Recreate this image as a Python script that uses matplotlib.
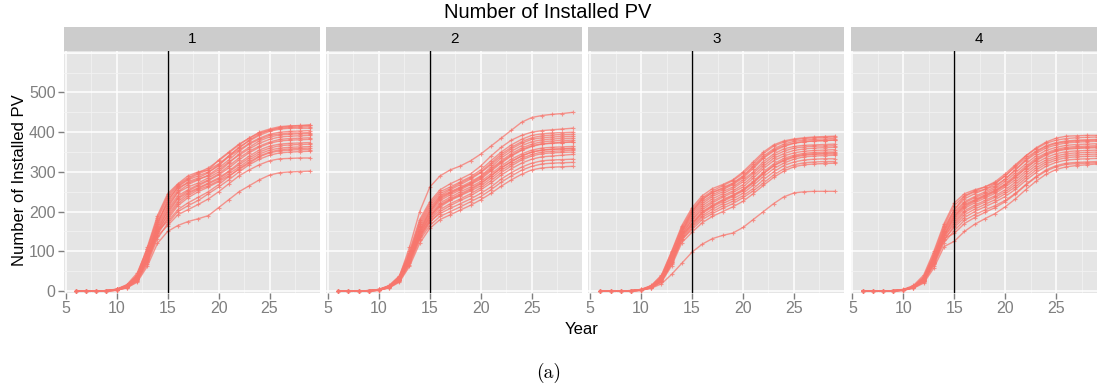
import matplotlib
matplotlib.use("Agg")
import matplotlib.pyplot as plt
from matplotlib.ticker import MultipleLocator

plt.rcParams['font.family'] = ['Liberation Sans', 'DejaVu Sans']

# data: cumulative installed PV per simulation run, years 6..29
years = list(range(6, 30))
vline_year = 15
panel_names = ["1", "2", "3", "4"]

panel1 = [
    [0, 0, 0, 1, 4, 14, 40, 110, 190, 245, 270, 290, 300, 305, 320, 340, 360, 380, 395, 405, 412, 415, 416, 418],
    [0, 0, 0, 1, 5, 16, 45, 105, 180, 235, 265, 282, 295, 305, 330, 350, 370, 385, 398, 405, 410, 412, 413, 414],
    [0, 0, 0, 1, 3, 12, 35, 95, 170, 225, 262, 280, 290, 300, 315, 340, 362, 378, 392, 402, 408, 410, 410, 410],
    [0, 0, 0, 0, 4, 15, 38, 100, 175, 220, 255, 275, 285, 298, 318, 338, 355, 372, 385, 395, 400, 402, 403, 404],
    [0, 0, 0, 1, 3, 10, 30, 90, 165, 215, 250, 268, 280, 292, 310, 330, 352, 370, 382, 392, 396, 398, 398, 399],
    [0, 0, 0, 0, 2, 12, 33, 85, 160, 210, 248, 262, 272, 285, 300, 322, 345, 362, 378, 388, 393, 395, 396, 396],
    [0, 0, 0, 1, 4, 14, 36, 92, 168, 230, 260, 272, 282, 290, 305, 325, 342, 358, 372, 382, 388, 390, 391, 392],
    [0, 0, 0, 0, 3, 11, 30, 80, 150, 205, 240, 255, 268, 280, 295, 315, 335, 352, 365, 375, 382, 384, 385, 386],
    [0, 0, 0, 1, 4, 13, 34, 88, 158, 200, 235, 252, 265, 278, 292, 310, 330, 348, 362, 372, 378, 380, 381, 382],
    [0, 0, 0, 0, 2, 10, 28, 78, 145, 195, 232, 248, 260, 272, 285, 302, 322, 340, 355, 365, 370, 372, 373, 374],
    [0, 0, 0, 1, 3, 12, 32, 84, 152, 190, 225, 245, 258, 270, 282, 300, 318, 335, 350, 360, 366, 368, 369, 370],
    [0, 0, 0, 0, 2, 9, 26, 72, 140, 185, 220, 240, 255, 265, 278, 295, 312, 330, 345, 355, 360, 362, 363, 364],
    [0, 0, 0, 1, 3, 11, 30, 80, 148, 180, 215, 235, 250, 262, 275, 290, 306, 322, 338, 348, 353, 355, 356, 356],
    [0, 0, 0, 0, 2, 8, 24, 68, 132, 170, 200, 215, 228, 245, 262, 280, 300, 318, 332, 342, 348, 350, 351, 352],
    [0, 0, 0, 1, 3, 10, 28, 75, 138, 165, 192, 205, 218, 232, 250, 270, 290, 305, 318, 328, 333, 334, 335, 335],
    [0, 0, 0, 0, 2, 8, 22, 62, 120, 150, 165, 175, 182, 190, 210, 230, 250, 265, 280, 292, 298, 300, 301, 302],
    [0, 0, 0, 1, 4, 14, 40, 105, 185, 240, 268, 285, 298, 310, 328, 348, 368, 385, 400, 408, 414, 416, 417, 418],
    [0, 0, 0, 0, 3, 10, 30, 85, 150, 175, 205, 222, 236, 250, 268, 288, 308, 325, 340, 350, 356, 358, 359, 360],
]

panel2 = [
    [0, 0, 0, 1, 4, 12, 35, 110, 200, 262, 290, 305, 315, 328, 345, 365, 385, 405, 425, 437, 442, 445, 447, 450],
    [0, 0, 0, 1, 4, 14, 38, 100, 180, 225, 255, 270, 282, 295, 315, 340, 362, 380, 392, 400, 404, 406, 408, 410],
    [0, 0, 0, 0, 3, 12, 35, 95, 175, 220, 250, 262, 275, 288, 305, 328, 350, 368, 382, 392, 396, 398, 399, 400],
    [0, 0, 0, 1, 3, 11, 32, 90, 170, 215, 245, 258, 272, 285, 300, 322, 345, 362, 376, 386, 391, 393, 394, 395],
    [0, 0, 0, 0, 3, 12, 34, 92, 165, 210, 240, 255, 268, 282, 298, 318, 340, 358, 372, 382, 386, 388, 389, 390],
    [0, 0, 0, 1, 4, 13, 36, 88, 160, 205, 238, 250, 262, 275, 290, 312, 335, 352, 366, 376, 381, 383, 384, 385],
    [0, 0, 0, 0, 2, 10, 30, 85, 155, 200, 232, 246, 258, 272, 288, 308, 328, 346, 360, 370, 376, 378, 379, 380],
    [0, 0, 0, 1, 3, 11, 32, 82, 150, 195, 228, 242, 255, 268, 282, 302, 322, 340, 354, 364, 370, 372, 374, 375],
    [0, 0, 0, 0, 2, 10, 28, 78, 148, 190, 222, 236, 250, 262, 276, 295, 315, 332, 345, 355, 360, 362, 363, 364],
    [0, 0, 0, 1, 3, 12, 30, 80, 145, 185, 218, 232, 245, 258, 272, 290, 310, 326, 340, 350, 355, 357, 358, 360],
    [0, 0, 0, 0, 2, 9, 27, 75, 140, 180, 212, 228, 240, 252, 265, 284, 304, 320, 334, 344, 350, 352, 353, 355],
    [0, 0, 0, 1, 3, 10, 28, 76, 138, 178, 205, 220, 232, 245, 260, 278, 298, 315, 330, 340, 346, 348, 349, 350],
    [0, 0, 0, 0, 2, 9, 25, 70, 132, 172, 200, 215, 228, 240, 255, 272, 292, 308, 322, 332, 338, 340, 342, 344],
    [0, 0, 0, 1, 3, 10, 28, 72, 135, 175, 195, 208, 220, 232, 246, 262, 282, 298, 312, 322, 328, 330, 331, 332],
    [0, 0, 0, 0, 2, 8, 24, 66, 128, 165, 188, 200, 212, 225, 238, 255, 274, 290, 304, 314, 320, 322, 323, 324],
    [0, 0, 0, 0, 2, 8, 22, 62, 120, 158, 180, 192, 204, 216, 230, 246, 264, 280, 294, 305, 310, 312, 313, 314],
    [0, 0, 0, 1, 3, 11, 30, 84, 152, 200, 235, 248, 260, 270, 285, 305, 325, 342, 356, 366, 371, 373, 374, 376],
    [0, 0, 0, 0, 3, 10, 28, 78, 142, 188, 215, 230, 242, 255, 270, 290, 310, 326, 340, 350, 355, 357, 358, 358],
]

panel3 = [
    [0, 0, 0, 0, 2, 7, 18, 42, 70, 98, 118, 132, 140, 146, 160, 180, 200, 220, 237, 247, 250, 251, 251, 251],
    [0, 0, 0, 1, 4, 14, 40, 100, 165, 210, 240, 258, 268, 280, 300, 325, 350, 368, 378, 383, 386, 388, 389, 390],
    [0, 0, 0, 1, 4, 13, 38, 98, 160, 205, 235, 252, 265, 278, 296, 320, 346, 365, 375, 381, 384, 386, 387, 388],
    [0, 0, 0, 0, 3, 12, 35, 95, 158, 200, 230, 248, 260, 272, 290, 315, 340, 358, 370, 377, 380, 382, 383, 384],
    [0, 0, 0, 1, 3, 12, 34, 90, 152, 195, 225, 242, 255, 268, 285, 308, 334, 352, 364, 372, 376, 378, 379, 380],
    [0, 0, 0, 0, 3, 11, 32, 88, 150, 190, 220, 238, 250, 262, 280, 300, 326, 345, 358, 364, 367, 368, 369, 370],
    [0, 0, 0, 1, 3, 10, 30, 85, 148, 185, 215, 232, 245, 258, 275, 296, 320, 340, 352, 360, 363, 365, 365, 366],
    [0, 0, 0, 0, 2, 10, 28, 80, 142, 180, 210, 226, 240, 252, 268, 290, 314, 334, 346, 354, 358, 360, 361, 362],
    [0, 0, 0, 1, 3, 11, 30, 82, 145, 178, 205, 222, 236, 248, 262, 284, 308, 328, 340, 348, 352, 354, 355, 356],
    [0, 0, 0, 0, 2, 9, 26, 76, 138, 172, 200, 216, 230, 242, 256, 276, 300, 320, 334, 342, 347, 349, 350, 350],
    [0, 0, 0, 1, 3, 10, 28, 78, 140, 170, 195, 212, 225, 238, 252, 272, 295, 315, 328, 337, 342, 344, 345, 345],
    [0, 0, 0, 0, 2, 9, 25, 72, 132, 165, 190, 206, 220, 232, 246, 266, 288, 308, 322, 332, 338, 340, 341, 342],
    [0, 0, 0, 0, 2, 8, 24, 68, 128, 160, 186, 200, 214, 226, 240, 258, 280, 300, 316, 325, 330, 332, 333, 333],
    [0, 0, 0, 1, 3, 9, 25, 70, 130, 155, 180, 195, 208, 220, 235, 252, 272, 292, 308, 318, 323, 325, 326, 326],
    [0, 0, 0, 0, 2, 8, 22, 64, 122, 148, 172, 188, 200, 212, 226, 245, 266, 286, 302, 313, 318, 320, 321, 322],
    [0, 0, 0, 1, 3, 11, 32, 86, 150, 200, 232, 248, 258, 270, 288, 312, 336, 355, 366, 373, 376, 378, 379, 380],
    [0, 0, 0, 0, 2, 9, 26, 74, 135, 168, 198, 214, 228, 240, 254, 274, 296, 316, 330, 339, 344, 346, 347, 348],
]

panel4 = [
    [0, 0, 0, 1, 4, 14, 40, 100, 170, 222, 245, 255, 262, 272, 290, 315, 340, 360, 375, 385, 390, 391, 392, 392],
    [0, 0, 0, 1, 3, 12, 36, 95, 165, 215, 240, 252, 262, 275, 295, 318, 340, 358, 372, 380, 384, 386, 387, 388],
    [0, 0, 0, 0, 3, 12, 34, 90, 160, 205, 232, 245, 256, 270, 290, 312, 335, 352, 366, 374, 378, 380, 381, 382],
    [0, 0, 0, 1, 3, 11, 32, 88, 155, 200, 225, 238, 250, 262, 282, 305, 328, 346, 360, 368, 373, 375, 376, 377],
    [0, 0, 0, 0, 2, 10, 30, 84, 150, 195, 222, 235, 246, 258, 276, 298, 320, 340, 354, 362, 367, 369, 370, 371],
    [0, 0, 0, 1, 3, 11, 30, 82, 148, 190, 218, 230, 242, 254, 270, 292, 314, 334, 348, 357, 362, 364, 365, 366],
    [0, 0, 0, 0, 2, 10, 28, 78, 142, 185, 212, 226, 238, 250, 266, 286, 308, 328, 342, 352, 357, 359, 360, 361],
    [0, 0, 0, 1, 3, 10, 28, 76, 140, 180, 208, 222, 234, 246, 262, 280, 302, 322, 336, 346, 351, 353, 354, 355],
    [0, 0, 0, 0, 2, 9, 26, 72, 135, 175, 202, 216, 228, 240, 255, 274, 296, 316, 330, 340, 346, 348, 349, 350],
    [0, 0, 0, 1, 3, 10, 27, 74, 136, 170, 198, 212, 224, 236, 250, 268, 290, 310, 325, 335, 341, 343, 344, 345],
    [0, 0, 0, 0, 2, 8, 24, 68, 128, 165, 192, 206, 218, 230, 245, 262, 284, 304, 320, 330, 336, 338, 339, 340],
    [0, 0, 0, 1, 2, 9, 25, 70, 130, 160, 185, 200, 212, 224, 238, 256, 278, 298, 314, 324, 330, 332, 333, 334],
    [0, 0, 0, 0, 2, 8, 22, 64, 122, 152, 178, 192, 204, 215, 228, 246, 268, 288, 305, 316, 322, 324, 325, 326],
    [0, 0, 0, 0, 2, 7, 20, 58, 112, 125, 150, 168, 182, 195, 212, 232, 255, 276, 294, 306, 313, 316, 318, 320],
    [0, 0, 0, 1, 3, 11, 31, 86, 152, 205, 238, 250, 256, 265, 282, 305, 330, 350, 364, 372, 376, 378, 379, 380],
    [0, 0, 0, 0, 2, 9, 25, 70, 132, 145, 170, 185, 198, 210, 225, 244, 266, 286, 302, 313, 319, 321, 322, 323],
    [0, 0, 0, 1, 3, 10, 28, 78, 140, 188, 215, 228, 240, 252, 268, 288, 310, 330, 345, 354, 359, 361, 362, 363],
]

panels = [panel1, panel2, panel3, panel4]

W, H = 1097, 389
fig = plt.figure(figsize=(W / 100, H / 100), dpi=100)


def box(x0, y0, w, h):
    # pixel box (top-left origin) -> figure fraction
    return [x0 / W, 1 - (y0 + h) / H, w / W, h / H]


grey_txt = '#7f7f7f'
line_col = '#F8766D'

for i, (name, runs) in enumerate(zip(panel_names, panels)):
    left = 64 + i * 262.2
    ax = fig.add_axes(box(left, 51, 256, 242))
    ax.set_facecolor('#e5e5e5')
    for s in ax.spines.values():
        s.set_visible(False)

    for run in runs:
        ax.plot(years, run, color=line_col, lw=1.0, alpha=0.75,
                marker='+', ms=3, mew=0.8, zorder=2)
    ax.axvline(vline_year, color='black', lw=1.0, zorder=3)

    ax.set_xlim(4.83, 29.95)
    ax.set_ylim(-5, 604.5)
    ax.set_xticks([5, 10, 15, 20, 25])
    ax.xaxis.set_minor_locator(MultipleLocator(2.5))
    ax.set_yticks([0, 100, 200, 300, 400, 500])
    ax.yaxis.set_minor_locator(MultipleLocator(50))
    ax.set_axisbelow(True)
    ax.grid(which='major', color='white', lw=1.1)
    ax.grid(which='minor', color='#f2f2f2', lw=0.6)
    ax.axhline(600, color='white', lw=1.1, zorder=0.6)

    ax.tick_params(which='major', color=grey_txt, labelcolor=grey_txt,
                   length=4, width=1, labelsize=11.5, pad=2)
    ax.tick_params(which='minor', length=0)
    if i > 0:
        ax.tick_params(axis='y', left=False, labelleft=False)

    strip = fig.add_axes(box(left, 27, 256, 24))
    strip.set_facecolor('#cccccc')
    strip.set_xticks([])
    strip.set_yticks([])
    for s in strip.spines.values():
        s.set_visible(False)
    strip.text(0.5, 0.5, name, ha='center', va='center', fontsize=11)

fig.text(548 / W, 1 - 13 / H, "Number of Installed PV", ha='center',
         va='center', fontsize=14.5)
fig.text(20 / W, 1 - 180 / H, "Number of Installed PV", ha='center',
         va='center', rotation=90, fontsize=12)
fig.text(582 / W, 1 - 329 / H, "Year", ha='center', va='center', fontsize=12)
fig.text(549 / W, 1 - 373 / H, "(a)", ha='center', va='center',
         fontsize=14, family='cmr10')

fig.savefig("out.png", dpi=100)
